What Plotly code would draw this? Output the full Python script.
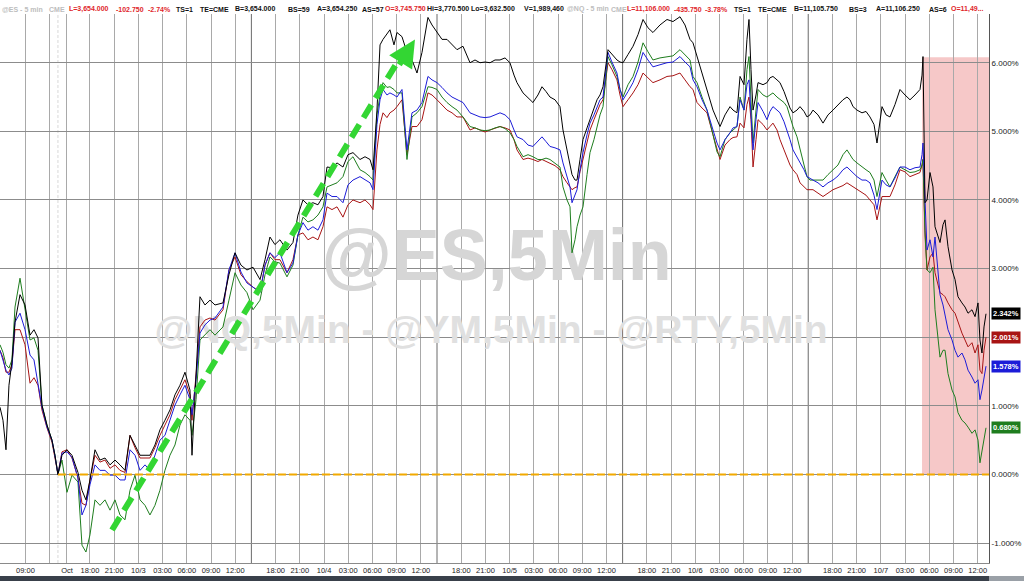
import plotly.graph_objects as go

# session clock: hours since the Sunday 10/2 18:00 open (one trading day = 23h)
hours = [
    -11.15, -10.78, -10.41, -10.04, -9.67, -9.29, -8.67, -8.05, -7.43, -6.94,
    -6.44, -5.95, -5.33, -4.71, -4.34, -3.97, -3.47, -2.85, -2.23, -1.49,
    -0.99, -0.50,
    0.00, 0.62, 1.24, 1.86, 2.48, 3.10, 3.72, 4.34, 4.96, 5.58,
    6.20, 6.82, 7.43, 8.05, 8.67, 9.29, 9.91, 10.53, 11.15, 11.77,
    12.39, 12.64, 13.14, 13.63, 14.25, 14.87, 15.49, 16.48, 17.22, 17.97,
    18.71, 19.45, 20.20, 21.07, 21.69, 22.30,
    22.92, 23.54, 24.41, 25.15, 25.77, 26.39, 27.01, 27.63, 28.25, 28.87,
    29.37, 29.99, 30.61, 31.35, 31.97, 32.59, 33.46, 34.08, 34.70, 35.07,
    35.56, 35.94, 36.31, 36.80, 37.17, 37.67, 38.04, 38.66, 39.28, 39.90,
    40.52, 41.14, 41.88, 42.38, 43.00, 43.62, 44.24, 44.86, 45.48,
    46.22, 47.09, 47.71, 48.33, 48.95, 49.57, 50.19, 50.81, 51.43, 52.04,
    52.54, 52.91, 53.66, 54.28, 54.89, 55.51, 56.01, 56.51, 57.00, 57.62,
    58.24, 58.61, 59.11, 59.48, 59.73, 60.10, 60.35, 60.72, 61.09, 61.59,
    61.96, 62.45, 62.83, 63.20, 63.57, 64.19, 64.68, 65.30, 65.68, 66.05,
    66.67, 67.29, 67.91, 68.53,
    69.14, 69.76, 70.63, 71.50, 72.24, 73.11, 73.73, 74.35, 74.72, 75.22,
    75.84, 76.46, 77.20, 77.70, 78.07, 78.69, 79.31, 79.68, 80.17, 80.55,
    81.04, 81.41, 81.66, 81.91, 82.16, 82.53, 82.78, 83.40, 83.89, 84.26,
    84.63, 85.13, 85.50, 86.00, 86.37, 86.74, 87.11, 87.61, 87.98, 88.48,
    88.85, 89.22, 89.59, 90.21, 90.83, 91.45,
    92.07, 92.69, 93.31, 93.80, 94.18, 94.55, 95.04, 95.66, 96.16, 96.65,
    97.15, 97.52, 97.89, 98.14, 98.64, 99.13, 99.75, 100.37, 100.99, 101.61,
    102.23, 102.85, 103.10, 103.22, 103.47, 103.72, 104.09, 104.46, 104.71, 105.08,
    105.33, 105.70, 105.95, 106.32, 106.82, 107.19, 107.56, 108.05, 108.43, 108.80,
    109.29, 109.67, 110.04, 110.28, 110.53, 110.78, 111.03,
]

# % change vs Friday 9/30 close
es = [
    0.98, 0.79, 0.36, 1.30, 1.64, 2.22, 2.62, 2.47, 2.03, 2.11,
    1.99, 1.01, 0.72, 0.50, 0.28, 0.00, 0.28, 0.36, 0.28, 0.03,
    -0.23, -0.37,
    -0.08, 0.36, 0.21, 0.24, 0.14, 0.21, 0.14, 0.06, 0.57, 0.43,
    0.28, 0.28, 0.28, 0.43, 0.65, 0.79, 0.94, 1.16, 1.30, 1.49,
    1.23, 0.28, 1.52, 2.59, 2.47, 2.54, 2.47, 2.50, 2.91, 3.23,
    3.05, 2.98, 3.02, 2.84, 3.13, 3.46,
    3.35, 3.42, 3.27, 3.38, 3.78, 4.00, 3.93, 3.96, 3.93, 4.05,
    4.48, 4.47, 4.54, 4.48, 4.66, 4.69, 4.59, 4.63, 4.59, 4.44,
    5.31, 6.26, 6.34, 6.41, 6.48, 6.26, 6.44, 6.38, 6.15, 6.04,
    5.85, 6.15, 6.66, 6.55, 6.44, 6.34, 6.34, 6.26, 6.19,
    6.24, 6.00, 6.04, 6.00, 6.01, 6.00, 6.04, 6.04, 6.07, 6.00,
    5.82, 5.71, 5.56, 5.49, 5.42, 5.53, 5.65, 5.58, 5.50, 5.46,
    5.36, 5.02, 4.73, 4.54, 4.37, 4.29, 4.29, 4.59, 4.88, 5.05,
    5.17, 5.31, 5.46, 5.53, 5.65, 6.19, 6.12, 6.04, 6.01, 6.00,
    6.12, 6.24, 6.41, 6.63,
    6.51, 6.44, 6.55, 6.63, 6.60, 6.67, 6.55, 6.34, 6.29, 6.09,
    5.82, 5.61, 5.31, 5.17, 5.07, 5.24, 5.36, 5.31, 5.27, 5.80,
    5.68, 6.34, 6.63, 5.90, 5.31, 5.53, 5.71, 5.68, 5.71, 5.78,
    5.80, 5.75, 5.71, 5.58, 5.46, 5.34, 5.27, 5.31, 5.36, 5.29,
    5.21, 5.24, 5.31, 5.24, 5.12, 5.24,
    5.31, 5.39, 5.46, 5.50, 5.46, 5.36, 5.31, 5.27, 5.29, 5.21,
    5.10, 4.83, 5.17, 5.36, 5.24, 5.21, 5.39, 5.61, 5.53, 5.46,
    5.53, 5.61, 5.82, 6.09, 3.96, 4.00, 4.40, 4.19, 3.61, 3.49,
    3.38, 3.64, 3.71, 3.32, 2.98, 2.84, 2.59, 2.50, 2.44, 2.35,
    2.40, 2.30, 2.50, 1.96, 1.77, 2.15, 2.342,
]

ym = [
    1.81, 1.70, 1.49, 1.49, 1.60, 2.11, 2.11, 1.89, 1.33, 1.41,
    1.30, 0.94, 0.68, 0.47, 0.24, 0.00, 0.33, 0.36, 0.24, -0.05,
    -0.42, -0.45,
    -0.08, 0.28, 0.18, 0.21, 0.09, 0.14, 0.06, 0.03, 0.57, 0.39,
    0.24, 0.24, 0.24, 0.39, 0.57, 0.72, 0.87, 1.09, 1.23, 1.38,
    1.16, 0.79, 1.45, 2.15, 2.25, 2.28, 2.25, 2.40, 2.98, 3.17,
    2.91, 2.81, 2.73, 2.66, 3.05, 3.23,
    3.13, 3.13, 2.94, 3.13, 3.49, 3.52, 3.42, 3.46, 3.42, 3.61,
    3.90, 3.86, 3.90, 3.75, 3.93, 4.00, 3.96, 4.00, 3.93, 3.86,
    4.73, 5.10, 5.27, 5.20, 5.27, 5.31, 5.36, 5.46, 4.66, 5.07,
    5.07, 5.17, 5.56, 5.53, 5.46, 5.39, 5.31, 5.27, 5.21,
    5.21, 5.02, 5.05, 5.02, 4.99, 5.02, 5.05, 5.07, 5.05, 5.02,
    4.88, 4.73, 4.59, 4.61, 4.59, 4.56, 4.59, 4.56, 4.54, 4.50,
    4.44, 4.34, 4.25, 4.19, 4.15, 4.18, 4.19, 4.41, 4.59, 4.80,
    5.02, 5.17, 5.27, 5.39, 5.46, 6.00, 5.90, 5.75, 5.53, 5.36,
    5.46, 5.56, 5.68, 5.85,
    5.78, 5.71, 5.75, 5.80, 5.81, 5.85, 5.75, 5.65, 5.61, 5.42,
    5.34, 5.27, 4.95, 4.73, 4.59, 4.80, 4.88, 4.91, 4.92, 5.12,
    5.05, 5.39, 5.50, 5.17, 4.48, 4.88, 5.17, 5.10, 5.02, 5.07,
    5.12, 5.02, 4.88, 4.73, 4.63, 4.51, 4.44, 4.37, 4.25, 4.19,
    4.15, 4.15, 4.15, 4.10, 4.05, 4.10,
    4.15, 4.18, 4.21, 4.25, 4.22, 4.19, 4.15, 4.10, 4.07, 4.00,
    3.93, 3.71, 3.93, 4.05, 4.05, 4.05, 4.22, 4.44, 4.41, 4.34,
    4.37, 4.40, 4.51, 4.59, 3.56, 2.98, 3.17, 3.23, 2.94, 2.76,
    2.65, 2.62, 2.59, 2.50, 2.40, 2.35, 2.21, 2.06, 1.96, 1.86,
    1.92, 1.77, 1.89, 1.52, 1.47, 1.81, 2.001,
]

nq = [
    1.81, 1.67, 1.52, 1.45, 1.55, 2.22, 2.35, 2.11, 1.74, 1.67,
    1.30, 0.98, 0.69, 0.50, 0.27, 0.00, 0.31, 0.33, 0.25, -0.05,
    -0.59, -0.45,
    -0.15, 0.14, 0.06, 0.06, -0.01, -0.01, -0.08, -0.08, 0.36, 0.28,
    0.06, 0.14, 0.06, 0.28, 0.50, 0.57, 0.79, 1.01, 1.16, 1.30,
    1.09, 0.87, 1.38, 2.06, 2.18, 2.25, 2.28, 2.44, 2.98, 3.23,
    2.95, 2.79, 2.73, 2.65, 3.05, 3.23,
    3.16, 3.23, 2.94, 3.08, 3.49, 3.67, 3.56, 3.61, 3.56, 3.71,
    4.10, 4.05, 4.05, 3.96, 4.22, 4.29, 4.34, 4.29, 4.25, 4.15,
    5.10, 5.46, 5.61, 5.53, 5.56, 5.53, 5.50, 5.61, 4.73, 5.27,
    5.31, 5.42, 5.80, 5.75, 5.71, 5.64, 5.56, 5.50, 5.46,
    5.42, 5.27, 5.24, 5.21, 5.20, 5.21, 5.24, 5.27, 5.24, 5.17,
    5.02, 4.92, 4.88, 4.80, 4.78, 4.85, 4.92, 4.85, 4.78, 4.76,
    4.73, 4.54, 4.32, 4.19, 3.96, 4.07, 4.15, 4.44, 4.69, 4.95,
    5.12, 5.24, 5.36, 5.46, 5.50, 6.15, 6.01, 5.85, 5.61, 5.46,
    5.58, 5.71, 5.90, 6.15,
    6.04, 5.94, 5.97, 6.00, 6.01, 6.09, 6.01, 5.94, 5.75, 5.65,
    5.46, 5.31, 5.02, 4.83, 4.73, 4.88, 4.98, 5.05, 5.07, 5.46,
    5.31, 5.68, 5.75, 5.31, 4.73, 5.17, 5.42, 5.29, 5.17, 5.29,
    5.36, 5.31, 5.27, 5.14, 5.02, 4.88, 4.73, 4.63, 4.54, 4.44,
    4.34, 4.32, 4.29, 4.25, 4.19, 4.25,
    4.29, 4.35, 4.44, 4.48, 4.44, 4.40, 4.34, 4.29, 4.29, 4.25,
    4.07, 3.86, 4.15, 4.29, 4.22, 4.19, 4.32, 4.48, 4.48, 4.44,
    4.47, 4.48, 4.66, 4.83, 4.00, 3.27, 3.42, 3.17, 3.46, 2.98,
    2.62, 2.47, 2.30, 2.11, 1.96, 1.81, 1.71, 1.77, 1.67, 1.52,
    1.42, 1.33, 1.38, 1.09, 1.23, 1.38, 1.578,
]

rty = [
    1.89, 1.78, 1.60, 1.55, 1.67, 2.44, 2.86, 2.40, 1.96, 1.99,
    1.81, 1.01, 0.72, 0.50, 0.28, 0.00, 0.21, -0.26, -0.01, -0.11,
    -1.03, -1.13,
    -0.88, -0.37, -0.45, -0.37, -0.52, -0.37, -0.59, -0.66, -0.23, -0.01,
    -0.37, -0.45, -0.59, -0.45, -0.23, 0.06, 0.28, 0.43, 0.72, 0.87,
    0.79, 0.57, 1.09, 1.96, 2.03, 2.11, 2.03, 2.15, 2.54, 2.94,
    2.76, 2.65, 2.40, 2.54, 2.91, 3.17,
    3.10, 3.08, 2.88, 3.05, 3.49, 3.75, 3.68, 3.71, 3.78, 3.90,
    4.19, 4.22, 4.25, 4.34, 4.56, 4.63, 4.44, 4.40, 4.34, 4.29,
    5.24, 5.53, 5.71, 5.64, 5.65, 5.61, 5.56, 5.56, 4.59, 5.21,
    5.27, 5.36, 5.65, 5.64, 5.61, 5.50, 5.42, 5.36, 5.31,
    5.21, 5.07, 5.05, 5.02, 5.01, 5.02, 5.05, 5.07, 5.04, 4.98,
    4.88, 4.78, 4.63, 4.66, 4.63, 4.59, 4.59, 4.61, 4.59, 4.54,
    4.48, 4.19, 4.00, 3.90, 3.23, 3.42, 3.61, 3.78, 3.90, 4.37,
    4.69, 4.88, 5.07, 5.24, 5.36, 6.09, 5.97, 5.80, 5.61, 5.50,
    5.68, 5.80, 6.01, 6.29,
    6.16, 6.04, 6.07, 6.09, 6.10, 6.19, 6.12, 6.04, 5.80, 5.71,
    5.50, 5.31, 4.95, 4.70, 4.63, 4.88, 4.98, 5.02, 5.07, 5.50,
    5.31, 5.90, 6.09, 5.46, 4.83, 5.31, 5.61, 5.53, 5.50, 5.53,
    5.56, 5.50, 5.46, 5.42, 5.36, 5.20, 5.07, 4.92, 4.73, 4.51,
    4.34, 4.29, 4.29, 4.29, 4.29, 4.37,
    4.44, 4.51, 4.66, 4.73, 4.66, 4.59, 4.54, 4.48, 4.44, 4.40,
    4.29, 4.05, 4.29, 4.40, 4.29, 4.19, 4.34, 4.48, 4.44, 4.40,
    4.41, 4.44, 4.51, 4.59, 3.49, 2.98, 2.94, 3.02, 2.40, 2.03,
    1.71, 1.81, 1.81, 1.47, 1.23, 1.13, 0.90, 0.79, 0.75, 0.69,
    0.60, 0.65, 0.50, 0.17, 0.36, 0.55, 0.680,
]

tick_hours = [-8, -5, -2.85,
              0, 3, 6, 9, 12, 15, 18,
              23, 26, 29, 32, 35, 38, 41,
              46, 49, 52, 55, 58, 61, 64,
              69, 72, 75, 78, 81, 84, 87,
              92, 95, 98, 101, 104, 107, 110]
tick_labels = ["09:00", "", "Oct",
               "18:00", "21:00", "10/3", "03:00", "06:00", "09:00", "12:00",
               "18:00", "21:00", "10/4", "03:00", "06:00", "09:00", "12:00",
               "18:00", "21:00", "10/5", "03:00", "06:00", "09:00", "12:00",
               "18:00", "21:00", "10/6", "03:00", "06:00", "09:00", "12:00",
               "18:00", "21:00", "10/7", "03:00", "06:00", "09:00", "12:00"]
session_breaks = [20, 43, 66, 89]
friday_close = -3.97
jobs_start = 103.1
y_ticks = [-1, 0, 1, 2, 3, 4, 5, 6]

X_MIN, X_MAX = -11.15, 111.4
Y_MIN, Y_MAX = -1.29, 6.71

RED = "#e0262b"
GREY = "#bdbdbd"
INK = "#111111"

fig = go.Figure()

# faint watermarks sit under the price lines
fig.add_trace(go.Scatter(
    x=[50.4], y=[3.10], mode="text", text=["@ES,5Min"],
    textfont=dict(family="Arial", size=72, color="#d6d6d6", weight="bold"),
    hoverinfo="skip", showlegend=False))
fig.add_trace(go.Scatter(
    x=[49.7], y=[2.06], mode="text", text=["@NQ,5Min - @YM,5Min - @RTY,5Min"],
    textfont=dict(family="Arial", size=39, color="#e0e0e0", weight="bold"),
    hoverinfo="skip", showlegend=False))

series = [
    ("@YM", ym, "#a81414"),
    ("@RTY", rty, "#1e7d1e"),
    ("@NQ", nq, "#1c1cd8"),
    ("@ES", es, "#000000"),
]
for name, vals, color in series:
    fig.add_trace(go.Scatter(x=hours, y=vals, name=name, mode="lines",
                             line=dict(color=color, width=1), showlegend=False))

shapes = [
    # pink highlight over the Friday 10/7 selloff
    dict(type="rect", xref="x", yref="y", x0=jobs_start, x1=X_MAX, y0=0, y1=6.08,
         fillcolor="#f6c8c8", line=dict(width=0), layer="below"),
    # bottom scrollbar strip
    dict(type="rect", xref="paper", yref="paper", x0=0, x1=1.0354, y0=-0.0328, y1=-0.0237,
         fillcolor="#39404a", line=dict(width=0)),
    dict(type="rect", xref="paper", yref="paper", x0=1.0, x1=1.0354, y0=-0.0328, y1=-0.0237,
         fillcolor="#9aa0a7", line=dict(width=0)),
    # friday close marker
    dict(type="line", xref="x", yref="paper", x0=friday_close, x1=friday_close, y0=0, y1=1,
         line=dict(color="#d8d8d8", width=1, dash="3px,2px"), layer="below"),
    # zero reference line
    dict(type="line", xref="x", yref="y", x0=friday_close, x1=X_MAX, y0=0, y1=0,
         line=dict(color="#f2a900", width=2, dash="8px,3px")),
    # green trend arrow shaft
    dict(type="line", xref="x", yref="y", x0=2.73, y0=-0.81, x1=38.41, y1=6.07,
         line=dict(color="#33d633", width=6, dash="15px,8px")),
]
for b in session_breaks:
    shapes.append(dict(type="line", xref="x", yref="paper", x0=b, x1=b, y0=0, y1=1,
                       line=dict(color="#6a6a6a", width=1), layer="below"))

annotations = [
    dict(x=40.27, y=6.34, ax=38.2, ay=5.95, xref="x", yref="y", axref="x", ayref="y",
         text="", showarrow=True, arrowhead=2, arrowsize=0.9, arrowwidth=6,
         arrowcolor="#33d633", standoff=0),
]

# last-price tags on the right edge
for name, vals, color in series:
    annotations.append(dict(
        x=1.0, y=vals[-1], xref="paper", yref="y", xanchor="left", yanchor="middle",
        xshift=2, text=f"<b>{vals[-1]:.3f}%</b>", showarrow=False,
        font=dict(family="Arial", size=7.5, color="white"),
        bgcolor=color, borderpad=1))

# quote header across the top
header = [
    ("@ES - 5 min", GREY, 1), ("CME", GREY, 48),
    ("L=3,654.000", RED, 68), ("-102.750", RED, 115), ("-2.74%", RED, 147),
    ("TS=1", INK, 175), ("TE=CME", INK, 199), ("B=3,654.000", INK, 234),
    ("BS=59", INK, 287), ("A=3,654.250", INK, 316), ("AS=57", INK, 361),
    ("O=3,745.750", RED, 384), ("Hi=3,770.500", INK, 426), ("Lo=3,632.500", INK, 470),
    ("V=1,989,460", INK, 523), ("@NQ - 5 min", GREY, 566), ("CME", GREY, 610),
    ("L=11,106.000", RED, 626), ("-435.750", RED, 673), ("-3.78%", RED, 704),
    ("TS=1", INK, 733), ("TE=CME", INK, 757), ("B=11,105.750", INK, 793),
    ("BS=3", INK, 848), ("A=11,106.250", INK, 875), ("AS=6", INK, 928),
    ("O=11,49...", RED, 950),
]
for txt, color, px in header:
    annotations.append(dict(
        x=px / 989, y=1, xref="paper", yref="paper", xanchor="left", yanchor="bottom",
        text=txt, showarrow=False, yshift=0, borderpad=0,
        font=dict(family="Arial", size=7, color=color, weight="bold")))

fig.update_layout(
    width=1024, height=581,
    margin=dict(l=0, r=35, t=14, b=18),
    paper_bgcolor="white", plot_bgcolor="white",
    showlegend=False,
    shapes=shapes,
    annotations=annotations,
    xaxis=dict(
        range=[X_MIN, X_MAX], tickmode="array", tickvals=tick_hours, ticktext=tick_labels,
        showgrid=True, gridcolor="#a9a9a9", gridwidth=1, zeroline=False,
        showline=True, linecolor="#8a8a8a", linewidth=1, ticks="",
        tickfont=dict(family="Arial", size=7.5, color="#222222"),
    ),
    yaxis=dict(
        range=[Y_MIN, Y_MAX], side="right", tickmode="array", tickvals=y_ticks,
        ticktext=[f"{v:.3f}%" for v in y_ticks],
        showgrid=True, gridcolor="#8c8c8c", gridwidth=1, zeroline=False,
        showline=True, linecolor="#555555", linewidth=1, ticks="",
        tickfont=dict(family="Arial", size=8, color="#222222"),
    ),
)

# drop the default page margin so the 1024x581 figure fills the window exactly
fig.write_html("out.html", config={"displayModeBar": False},
               post_script="document.body.style.margin='0';")
